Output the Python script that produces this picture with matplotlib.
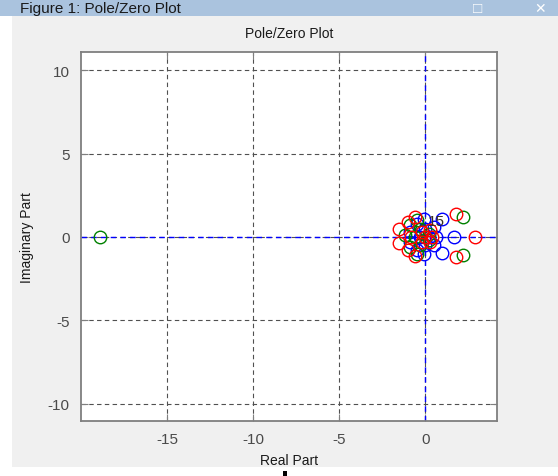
import matplotlib.pyplot as plt
from matplotlib.patches import Rectangle

# zeros of the three systems (real, imag)
blue_re = [1.7, 1.0, 1.0, -0.1, -0.1, 0.5, 0.5, 0.2, -0.5, -0.5, -0.9, -0.9, 0.0, 0.0, -0.3, 0.6]
blue_im = [0.0, 1.05, -0.95, 1.1, -1.0, 0.6, -0.5, 0.0, 0.8, -0.8, 0.3, -0.3, 0.5, -0.5, 0.0, 0.0]

red_re = [2.9, 1.8, 1.8, -1.5, -1.5, -0.6, -0.6, 0.3, 0.3, -1.0, -1.0, -0.2, -0.2, 0.0, -0.8, 0.4]
red_im = [0.0, 1.35, -1.2, 0.45, -0.35, 1.2, -1.15, 0.4, -0.3, 0.9, -0.8, 0.3, -0.3, 0.0, 0.0, 0.0]

green_re = [-18.9, 2.2, 2.2, -0.9, -0.9, -0.5, -0.5, -1.2, 0.2, 0.2, -0.3, -0.3, -0.6]
green_im = [0.0, 1.2, -1.1, 0.7, -0.6, 1.0, -1.0, 0.1, 0.2, -0.2, 0.5, -0.5, 0.0]

xticks = [-15, -10, -5, 0]
yticks = [-10, -5, 0, 5, 10]

W, H = 558, 477
plt.rcParams['font.family'] = ['Liberation Sans', 'DejaVu Sans']
plt.rcParams['axes.unicode_minus'] = False
fig = plt.figure(figsize=(W / 100, H / 100), dpi=100)
fig.patch.set_facecolor('#f0f0f0')

# window frame bits
fig.patches.append(Rectangle((0, 1 - 17 / H), 1, 17 / H, transform=fig.transFigure,
                             facecolor='#aac3de', edgecolor='none', zorder=0))
fig.patches.append(Rectangle((0, 0), 12 / W, 1 - 17 / H, transform=fig.transFigure,
                             facecolor='white', edgecolor='none', zorder=0))
fig.patches.append(Rectangle((0, 0), 1, 9 / H, transform=fig.transFigure,
                             facecolor='white', edgecolor='none', zorder=0))
fig.patches.append(Rectangle((283 / W, 0), 4 / W, 5 / H, transform=fig.transFigure,
                             facecolor='black', edgecolor='none', zorder=1))
fig.text(20 / W, 1 - 13 / H, 'Figure 1: Pole/Zero Plot', fontsize=11, color='#1a1a1a',
         va='baseline', ha='left')
fig.text(478 / W, 1 - 13 / H, '\u25a1', fontsize=11, color='white', va='baseline', ha='center')
fig.text(540 / W, 1 - 13 / H, '\u2715', fontsize=10, color='white', va='baseline', ha='center')

ax = fig.add_axes([80.5 / W, 1 - 422 / H, 416.5 / W, 369 / H])
ax.set_facecolor('white')

ax.axhline(0, color='blue', ls='--', lw=1, dashes=(4, 3), zorder=2)
ax.axvline(0, color='blue', ls='--', lw=1, dashes=(4, 3), zorder=2)

ms = 9
ax.plot(blue_re, blue_im, 'o', mfc='none', mec='blue', ms=ms, mew=1, zorder=3)
ax.plot(green_re, green_im, 'o', mfc='none', mec=(0, 0.5, 0), ms=ms, mew=1, zorder=4)
ax.plot(red_re, red_im, 'o', mfc='none', mec='red', ms=ms, mew=1, zorder=5)
ax.text(0.15, 0.55, '15', fontsize=11, color='#3a3020', ha='left', va='bottom', zorder=6)

ax.set_xlim(-20.03, 4.17)
ax.set_ylim(-11.05, 11.1)
ax.set_xticks(xticks)
ax.set_yticks(yticks)
ax.grid(True, color='#505050', ls='--', lw=0.8, dashes=(4, 3))
ax.set_axisbelow(True)
ax.tick_params(direction='in', top=True, right=True, length=5, width=0.8,
               colors='#7f7f7f', labelcolor='#4a4a4a', labelsize=11, pad=8)
for s in ax.spines.values():
    s.set_color('#7f7f7f')
    s.set_linewidth(1.3)

ax.set_title('Pole/Zero Plot', fontsize=10, color='#1a1a1a', pad=11)
ax.set_xlabel('Real Part', fontsize=10, color='#1a1a1a', labelpad=5)
ax.set_ylabel('Imaginary Part', fontsize=10, color='#1a1a1a', labelpad=10)

fig.savefig('out.png', dpi=100, facecolor=fig.get_facecolor())
